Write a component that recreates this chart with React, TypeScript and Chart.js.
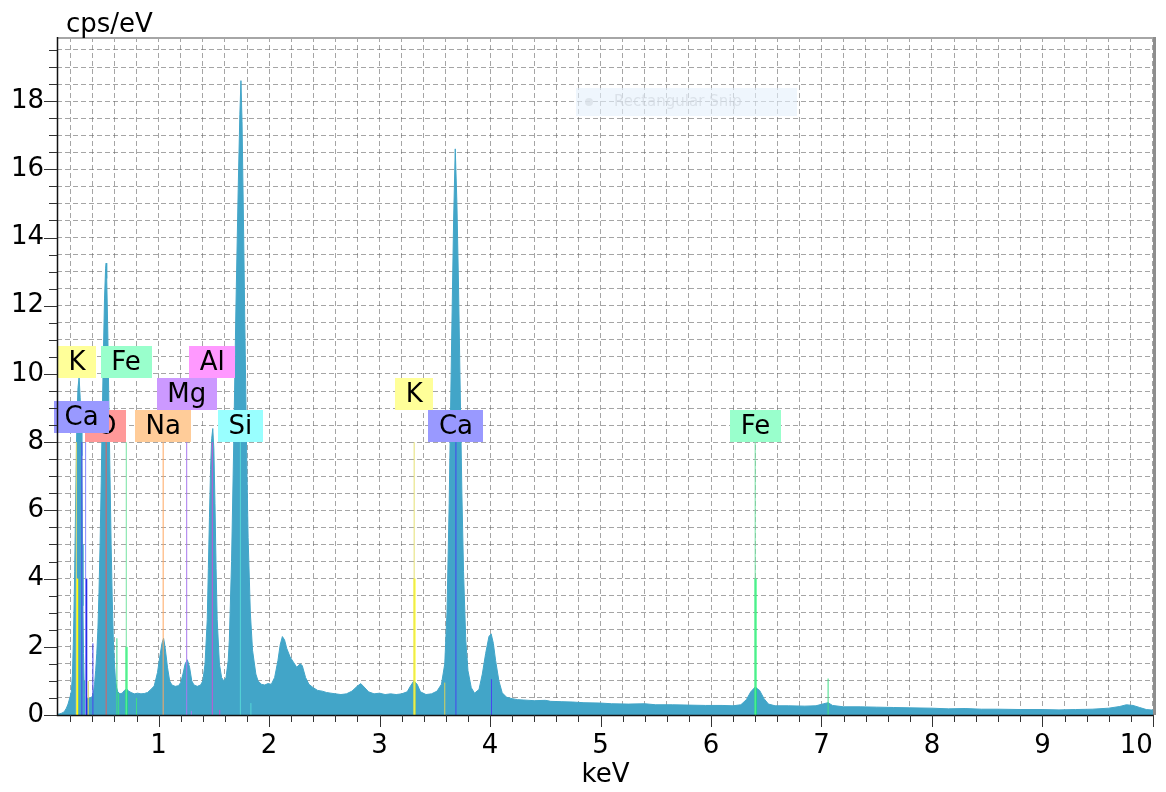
import React, { useEffect, useRef } from 'react';
import { Chart, registerables } from 'chart.js';

Chart.register(...registerables);

const FONT = '"DejaVu Sans", Verdana, sans-serif';
const FONT_SIZE = 26;

// ---------------- spectrum (keV -> cps/eV) ----------------
const energyKeV = [
  0.08, 0.10, 0.12, 0.14, 0.15, 0.165, 0.18, 0.20, 0.21, 0.22, 0.23, 0.24, 0.25, 0.26, 0.27, 0.28, 0.29, 0.30, 0.305, 0.31,
  0.315, 0.32, 0.325, 0.33, 0.34, 0.35, 0.36, 0.37, 0.38, 0.39, 0.40, 0.41, 0.42, 0.43, 0.44, 0.45, 0.46, 0.47, 0.48, 0.49,
  0.50, 0.51, 0.52, 0.525, 0.53, 0.54, 0.55, 0.56, 0.57, 0.58, 0.59, 0.60, 0.61, 0.62, 0.63, 0.65, 0.67, 0.69, 0.71, 0.73,
  0.75, 0.78, 0.81, 0.84, 0.87, 0.90, 0.93, 0.96, 0.99, 1.01, 1.03, 1.045, 1.06, 1.08, 1.10, 1.12, 1.15, 1.18, 1.20, 1.22,
  1.24, 1.26, 1.28, 1.30, 1.32, 1.35, 1.38, 1.40, 1.42, 1.44, 1.45, 1.46, 1.47, 1.48, 1.49, 1.50, 1.51, 1.52, 1.53, 1.55,
  1.57, 1.59, 1.61, 1.63, 1.64, 1.66, 1.68, 1.70, 1.72, 1.735, 1.745, 1.755, 1.77, 1.78, 1.80, 1.81, 1.83, 1.85, 1.88, 1.90,
  1.93, 1.96, 1.99, 2.02, 2.05, 2.08, 2.10, 2.12, 2.14, 2.16, 2.19, 2.22, 2.25, 2.28, 2.30, 2.33, 2.36, 2.40, 2.44, 2.48,
  2.52, 2.56, 2.60, 2.65, 2.70, 2.75, 2.80, 2.83, 2.86, 2.90, 2.95, 3.00, 3.05, 3.10, 3.15, 3.20, 3.25, 3.28, 3.31, 3.34,
  3.37, 3.42, 3.47, 3.52, 3.56, 3.59, 3.61, 3.63, 3.65, 3.67, 3.685, 3.70, 3.715, 3.73, 3.745, 3.76, 3.78, 3.80, 3.83, 3.86,
  3.90, 3.93, 3.96, 3.99, 4.01, 4.03, 4.05, 4.08, 4.11, 4.15, 4.20, 4.25, 4.30, 4.40, 4.50, 4.55, 4.65, 4.75, 4.85, 5.00,
  5.10, 5.25, 5.40, 5.50, 5.65, 5.80, 5.95, 6.10, 6.20, 6.27, 6.32, 6.36, 6.40, 6.44, 6.48, 6.52, 6.58, 6.70, 6.85, 6.95,
  7.02, 7.06, 7.10, 7.20, 7.35, 7.50, 7.65, 7.80, 8.00, 8.15, 8.30, 8.45, 8.60, 8.80, 9.00, 9.15, 9.30, 9.45, 9.60, 9.70,
  9.76, 9.82, 9.88, 9.94, 10.01,
];
const countsCps = [
  0.02, 0.03, 0.05, 0.08, 0.12, 0.2, 0.32, 0.55, 0.7, 1.2, 2.4, 4.2, 6.5, 8.6, 9.6, 9.9, 9.3, 8.3, 7.6, 5.0,
  3.2, 1.8, 1.0, 0.6, 0.5, 0.48, 0.5, 0.47, 0.5, 0.52, 0.55, 0.65, 0.9, 1.3, 1.8, 2.5, 3.6, 5.0, 6.8, 8.8,
  10.6, 12.2, 13.1, 13.25, 12.8, 11.2, 9.0, 7.0, 5.0, 3.4, 2.2, 1.5, 1.0, 0.8, 0.68, 0.62, 0.64, 0.72, 0.76, 0.7,
  0.66, 0.62, 0.64, 0.62, 0.63, 0.66, 0.75, 0.85, 1.25, 1.7, 2.1, 2.25, 1.95, 1.4, 1.0, 0.88, 0.84, 0.86, 0.95, 1.2,
  1.5, 1.62, 1.4, 1.0, 0.88, 0.84, 0.88, 1.0, 1.5, 2.8, 4.3, 5.8, 7.2, 8.1, 8.4, 7.8, 6.2, 4.3, 2.8, 1.5,
  1.1, 1.0, 1.1, 1.6, 2.2, 4.5, 8.0, 12.0, 15.4, 17.6, 18.6, 17.4, 14.0, 11.5, 7.0, 5.2, 3.0, 1.9, 1.2, 1.0,
  0.9, 0.88, 0.92, 0.9, 1.1, 1.6, 2.05, 2.3, 2.2, 1.95, 1.7, 1.55, 1.4, 1.5, 1.45, 1.1, 0.9, 0.8, 0.72, 0.7,
  0.66, 0.64, 0.62, 0.6, 0.62, 0.7, 0.85, 0.92, 0.82, 0.68, 0.62, 0.64, 0.6, 0.62, 0.6, 0.62, 0.68, 0.85, 1.0, 0.9,
  0.68, 0.6, 0.62, 0.7, 0.9, 1.5, 3.0, 6.2, 10.5, 14.5, 16.6, 15.0, 12.5, 9.5, 6.5, 4.2, 2.2, 1.3, 0.8, 0.64,
  0.75, 1.2, 1.8, 2.3, 2.38, 2.1, 1.6, 1.0, 0.65, 0.52, 0.48, 0.45, 0.44, 0.42, 0.43, 0.4, 0.39, 0.38, 0.36, 0.35,
  0.33, 0.32, 0.33, 0.3, 0.3, 0.29, 0.28, 0.28, 0.27, 0.3, 0.45, 0.68, 0.82, 0.72, 0.48, 0.32, 0.27, 0.27, 0.26, 0.27,
  0.33, 0.36, 0.28, 0.24, 0.24, 0.23, 0.22, 0.21, 0.2, 0.18, 0.19, 0.17, 0.17, 0.16, 0.16, 0.15, 0.16, 0.17, 0.2, 0.25,
  0.3, 0.28, 0.22, 0.16, 0.14,
];

// ---------------- element marker lines ----------------
const markerElement = ['K', 'K', 'K', 'K', 'K', 'K', 'Ca', 'Ca', 'Ca', 'Ca', 'Ca', 'Ca', 'O', 'Fe', 'Fe', 'Fe', 'Fe', 'Fe', 'Fe', 'Fe', 'Fe', 'Na', 'Mg', 'Mg', 'Al', 'Al', 'Si', 'Si'];
const markerKeV = [0.255, 0.263, 0.363, 3.313, 3.316, 3.59, 0.305, 0.339, 0.345, 0.405, 3.691, 4.013, 0.525, 0.622, 0.638, 0.707, 0.709, 0.80, 6.40, 6.403, 7.06, 1.041, 1.254, 1.296, 1.486, 1.553, 1.74, 1.835];
const markerHeight = [8, 4, 1.0, 8, 4, 0.95, 8, 8, 4, 2.1, 8, 1.05, 8, 2.25, 0.64, 8, 2.0, 0.5, 8, 4, 1.07, 8, 8, 0.12, 8, 0.15, 8, 0.35];
const markerWeight = [0, 2, 1, 0, 2, 1, 1, 0, 2, 1, 1, 1, 1, 1, 1, 0, 2, 1, 0, 2, 1, 1, 1, 1, 1, 1, 1, 1];

// ---------------- element labels ----------------
const labelText = ['K', 'Fe', 'Al', 'Mg', 'K', 'O', 'Na', 'Si', 'Ca', 'Fe', 'Ca'];
const labelKeV = [0.262, 0.705, 1.486, 1.254, 3.313, 0.525, 1.041, 1.74, 3.691, 6.403, 0.302];
const labelBaseCps = [9.88, 9.88, 9.88, 8.94, 8.94, 8.0, 8.0, 8.0, 8.0, 8.0, 8.27];

// ---------------- axes ----------------
const xRange = [0.08, 10.01];
const yRange = [0, 19.88];
const xTickStep = 0.2;
const yTickStep = 0.5;
const xTickLabels = [1, 2, 3, 4, 5, 6, 7, 8, 9, 10];
const yTickLabels = [0, 2, 4, 6, 8, 10, 12, 14, 16, 18];

const ELEMENT_STYLE: Record<string, { box: string; line: string[] }> = {
  K: { box: '#FFFF99', line: ['#E4DF72', '#D9D35A', '#FFFF00'] },
  Ca: { box: '#9999FF', line: ['#8C8CFF', '#4646EE', '#1E1EE6'] },
  O: { box: '#FF9999', line: ['#E86A6A', '#E06060', '#E06060'] },
  Fe: { box: '#99FFCC', line: ['#74E3A2', '#3FDD86', '#00FF5E'] },
  Na: { box: '#FFCC99', line: ['#FFAE66', '#FFA860', '#FFA860'] },
  Mg: { box: '#CC99FF', line: ['#B080F0', '#A878EE', '#A878EE'] },
  Al: { box: '#FF99FF', line: ['#C060D0', '#C456D4', '#C456D4'] },
  Si: { box: '#99FFFF', line: ['#5CD8D8', '#55D6D6', '#55D6D6'] },
};

const SPECTRUM_COLOR = '#42A5C8';
const GRID_COLOR = 'rgba(105,105,105,0.6)';

const isLabelled = (v: number, list: number[]) => list.some((t) => Math.abs(t - v) < 1e-6);

const overlayPlugin = {
  id: 'edsOverlay',
  afterDatasetsDraw(chart: any) {
    const { ctx, scales } = chart;
    const x = scales.x;
    const y = scales.y;
    ctx.save();
    ctx.font = `${FONT_SIZE}px ${FONT}`;
    ctx.textAlign = 'center';
    ctx.textBaseline = 'middle';
    labelText.forEach((t, i) => {
      const cx = x.getPixelForValue(labelKeV[i]);
      const bottom = y.getPixelForValue(labelBaseCps[i]);
      const w = ctx.measureText(t).width + 21;
      const h = 32;
      ctx.fillStyle = ELEMENT_STYLE[t].box;
      ctx.fillRect(Math.round(cx - w / 2), Math.round(bottom - h), Math.round(w), h);
      ctx.fillStyle = '#000';
      ctx.fillText(t, cx, bottom - h / 2 + 1);
    });
    ctx.restore();
  },
  afterDraw(chart: any) {
    const { ctx, chartArea, scales } = chart;
    const { left, right, top, bottom } = chartArea;
    const x = scales.x;
    const y = scales.y;
    ctx.save();
    // screenshot overlay (faint)
    ctx.fillStyle = 'rgba(228,240,252,0.6)';
    ctx.fillRect(576, 88, 221, 28);
    ctx.fillStyle = 'rgba(215,222,230,0.7)';
    ctx.beginPath();
    ctx.arc(589, 102, 4, 0, Math.PI * 2);
    ctx.fill();
    ctx.font = `15px ${FONT}`;
    ctx.textAlign = 'left';
    ctx.textBaseline = 'middle';
    ctx.fillStyle = 'rgba(205,212,220,0.6)';
    ctx.fillText('Rectangular Snip', 614, 102);

    // frame
    ctx.strokeStyle = '#A6A6A6';
    ctx.lineWidth = 2;
    ctx.beginPath();
    ctx.moveTo(left, top + 1);
    ctx.lineTo(right, top + 1);
    ctx.stroke();
    ctx.strokeStyle = '#8E8E8E';
    ctx.lineWidth = 3;
    ctx.beginPath();
    ctx.moveTo(right + 0.5, top);
    ctx.lineTo(right + 0.5, bottom);
    ctx.stroke();
    ctx.strokeStyle = '#111';
    ctx.lineWidth = 1.5;
    ctx.beginPath();
    ctx.moveTo(left + 0.5, top);
    ctx.lineTo(left + 0.5, bottom + 0.5);
    ctx.lineTo(right, bottom + 0.5);
    ctx.stroke();

    // tick marks
    ctx.lineWidth = 1;
    ctx.strokeStyle = '#333';
    ctx.beginPath();
    x.ticks.forEach((tk: any) => {
      const px = Math.round(x.getPixelForValue(tk.value)) + 0.5;
      const len = isLabelled(tk.value, xTickLabels) ? 12 : 7;
      ctx.moveTo(px, bottom);
      ctx.lineTo(px, bottom + len);
    });
    y.ticks.forEach((tk: any) => {
      const py = Math.round(y.getPixelForValue(tk.value)) + 0.5;
      const len = isLabelled(tk.value, yTickLabels) ? 13 : 8;
      ctx.moveTo(left, py);
      ctx.lineTo(left - len, py);
    });
    ctx.stroke();

    // y unit
    ctx.fillStyle = '#000';
    ctx.font = `${FONT_SIZE}px ${FONT}`;
    ctx.textAlign = 'left';
    ctx.textBaseline = 'alphabetic';
    ctx.fillText('cps/eV', 66, 32);
    ctx.restore();
  },
};

export default function App() {
  const canvasRef = useRef<HTMLCanvasElement | null>(null);

  useEffect(() => {
    if (!canvasRef.current) return;
    Chart.defaults.font.family = FONT;

    const spectrum = {
      type: 'line' as const,
      label: 'spectrum',
      data: energyKeV.map((e, i) => ({ x: e, y: countsCps[i] })),
      borderColor: SPECTRUM_COLOR,
      backgroundColor: SPECTRUM_COLOR,
      borderWidth: 1,
      pointRadius: 0,
      fill: 'origin',
      tension: 0,
      order: 1,
    };

    const markers = markerKeV.map((e, i) => {
      const st = ELEMENT_STYLE[markerElement[i]];
      const w = markerWeight[i];
      return {
        type: 'line' as const,
        label: markerElement[i],
        data: [
          { x: e, y: 0 },
          { x: e, y: markerHeight[i] },
        ],
        borderColor: st.line[w],
        borderWidth: w === 2 ? 2 : 1,
        pointRadius: 0,
        fill: false,
        order: 0,
      };
    });

    const chart = new Chart(canvasRef.current, {
      type: 'line',
      data: { datasets: [...markers, spectrum] as any },
      plugins: [overlayPlugin],
      options: {
        animation: false,
        responsive: true,
        maintainAspectRatio: false,
        events: [],
        layout: { padding: { left: 0, right: 12, top: 37, bottom: 0 } },
        plugins: {
          legend: { display: false },
          tooltip: { enabled: false },
          title: { display: false },
        },
        scales: {
          x: {
            type: 'linear',
            min: xRange[0],
            max: xRange[1],
            afterBuildTicks: (s: any) => {
              const ticks = [];
              const n = Math.floor(xRange[1] / xTickStep + 1e-6);
              for (let i = 1; i <= n; i++) ticks.push({ value: Math.round(i * xTickStep * 10) / 10 });
              s.ticks = ticks;
            },
            afterFit: (s: any) => {
              s.height = 77;
              s.paddingLeft = 0;
              s.paddingRight = 0;
            },
            ticks: {
              autoSkip: false,
              maxRotation: 0,
              minRotation: 0,
              align: 'inner',
              padding: 16,
              color: '#000',
              font: { family: FONT, size: FONT_SIZE },
              callback: (v: any) => {
                const n = Number(v);
                return isLabelled(n, xTickLabels) ? String(Math.round(n)) : '';
              },
            },
            grid: { color: GRID_COLOR, lineWidth: 1, drawTicks: false },
            border: { display: false, dash: [5, 3] },
            title: {
              display: true,
              text: 'keV',
              color: '#000',
              font: { family: FONT, size: FONT_SIZE },
              padding: { top: 0, bottom: 1 },
            },
          },
          y: {
            type: 'linear',
            min: yRange[0],
            max: yRange[1],
            afterBuildTicks: (s: any) => {
              const ticks = [];
              const n = Math.floor(yRange[1] / yTickStep + 1e-6);
              for (let i = 0; i <= n; i++) ticks.push({ value: i * yTickStep });
              s.ticks = ticks;
            },
            afterFit: (s: any) => {
              s.width = 57;
              s.paddingTop = 0;
              s.paddingBottom = 0;
            },
            ticks: {
              autoSkip: false,
              padding: 13,
              color: '#000',
              font: { family: FONT, size: FONT_SIZE },
              callback: (v: any) => {
                const n = Number(v);
                return isLabelled(n, yTickLabels) ? String(Math.round(n)) : '';
              },
            },
            grid: { color: GRID_COLOR, lineWidth: 1, drawTicks: false },
            border: { display: false, dash: [5, 3] },
          },
        },
      } as any,
    });

    return () => chart.destroy();
  }, []);

  return (
    <div style={{ position: 'fixed', left: 0, top: 0, width: 1166, height: 792, background: '#fff' }}>
      <canvas ref={canvasRef} />
    </div>
  );
}
